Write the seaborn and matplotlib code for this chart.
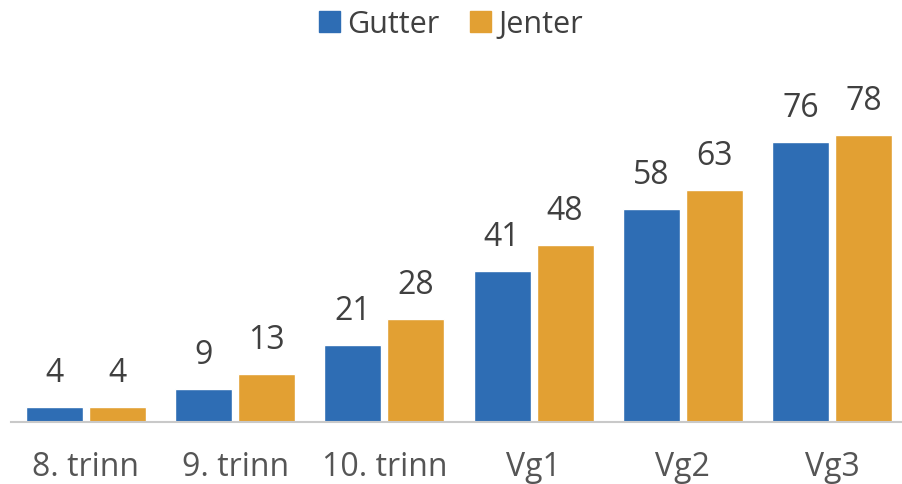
import pandas as pd
import matplotlib
matplotlib.use("Agg")
import matplotlib.pyplot as plt
import matplotlib.patches as mpatches
import seaborn as sns

# ── Data ─────────────────────────────────────────────────────────────────────
trinn   = ["8. trinn", "9. trinn", "10. trinn", "Vg1", "Vg2", "Vg3"]
gutter  = [4, 9, 21, 41, 58, 76]
jenter  = [4, 13, 28, 48, 63, 78]
grupper = ["Gutter", "Jenter"]

COLORS = {"Gutter": "#2E6DB4", "Jenter": "#E2A033"}
TEXT = "#404040"

df = pd.DataFrame({
    "trinn": trinn * 2,
    "gruppe": ["Gutter"] * len(trinn) + ["Jenter"] * len(trinn),
    "andel": gutter + jenter,
})

# ── Style ────────────────────────────────────────────────────────────────────
sns.set_theme(style="white")
plt.rcParams["font.family"] = ["Open Sans", "DejaVu Sans"]

fig = plt.figure(figsize=(9.02, 4.85), dpi=100)
ax = fig.add_axes([11.4 / 902, 62 / 485, (902 - 11.4) / 902, 368 / 485])

sns.barplot(data=df, x="trinn", y="andel", hue="gruppe", order=trinn,
            hue_order=grupper, palette=COLORS, width=0.844, gap=0.095,
            saturation=1, ax=ax, legend=False)

# verdier over søylene
for cont, vals in zip(ax.containers, [gutter, jenter]):
    ax.bar_label(cont, labels=[str(v) for v in vals], padding=13,
                 fontsize=23, color=TEXT)

ax.set_ylim(0, 100)
ax.set_xlim(-0.5, -0.5 + (902 - 11.4) / 149.2)
ax.set_xlabel("")
ax.set_ylabel("")
ax.set_yticks([])
ax.tick_params(axis="x", length=0, pad=20, labelsize=23, labelcolor="#555555")
for side in ["top", "left", "right"]:
    ax.spines[side].set_visible(False)
ax.spines["bottom"].set_color("#C9C9C9")
ax.spines["bottom"].set_linewidth(1.5)

handles = [mpatches.Patch(color=COLORS[g], label=g) for g in grupper]
fig.legend(handles=handles, loc="center", bbox_to_anchor=(0.5, 1 - 25 / 485),
           ncol=2, frameon=False, fontsize=22, labelcolor=TEXT,
           handlelength=0.68, handleheight=0.68, handletextpad=0.25,
           columnspacing=1.0)

fig.savefig("out.png", dpi=100)
